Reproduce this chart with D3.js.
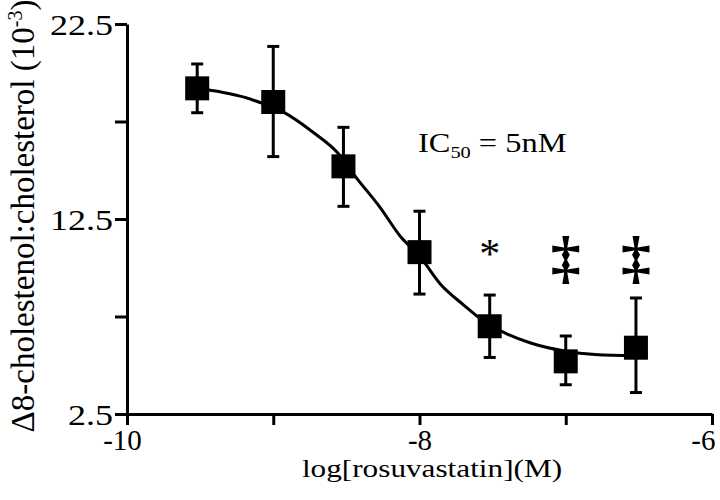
<!DOCTYPE html>
<html>
<head>
  <title>Rosuvastatin dose response</title>
  <style>
    body { margin: 0; background-color: white; }
    svg { display: block; }
    text { font-family: "Liberation Serif", "Times New Roman", serif; fill: black; }
  </style>
</head>
<body>
  <div id="chart-container">
    <svg width="720" height="500"></svg>
  </div>

  <script src="https://d3js.org/d3.v7.min.js"></script>
  <script>
    // measured points (mean with error bar ends)
    const concLog = [-9.52, -9, -8.52, -8, -7.52, -7, -6.52];
    const ratioMean = [19.2, 18.5, 15.2, 10.8, 7.0, 5.2, 5.9];
    const ratioUpper = [20.45, 21.35, 17.2, 12.9, 8.6, 6.5, 8.45];
    const ratioLower = [17.95, 15.7, 13.15, 8.65, 5.4, 4.0, 3.6];
    const sigMarks = ["", "", "", "", "*", "\u2021", "\u2021"];

    // fitted curve
    const fitLog = [-9.52, -9.35, -9.2, -9.1, -8.93, -8.73, -8.56, -8.43, -8.27, -8.13, -8.0, -7.85, -7.7, -7.55, -7.4, -7.24, -7.0, -6.8, -6.52];
    const fitRatio = [19.2, 19.0, 18.75, 18.5, 17.98, 16.96, 15.9, 14.6, 13.1, 11.6, 10.6, 9.1, 8.1, 7.2, 6.6, 6.14, 5.72, 5.55, 5.48];

    const xTicks = [-10, -9, -8, -7, -6];
    const xTickLabels = ["-10", "", "-8", "", "-6"];
    const yTicks = [2.5, 7.5, 12.5, 17.5, 22.5];
    const yTickLabels = ["2.5", "", "12.5", "", "22.5"];

    const svg = d3.select("svg");
    const x = d3.scaleLinear().domain([-10, -6]).range([127, 712]);
    const y = d3.scaleLinear().domain([2.5, 22.5]).range([414, 24]);
    const stretch = 1.2;

    svg.append("rect").attr("width", 720).attr("height", 500).attr("fill", "white");

    // axes
    const xAxis = svg.append("g")
      .attr("transform", "translate(0,414)")
      .call(d3.axisBottom(x).tickValues(xTicks).tickSize(11).tickSizeOuter(0)
        .tickFormat((d, i) => xTickLabels[i]));
    const yAxis = svg.append("g")
      .attr("transform", "translate(127,0)")
      .call(d3.axisLeft(y).tickValues(yTicks).tickSize(12).tickSizeOuter(0)
        .tickFormat((d, i) => yTickLabels[i]));

    [xAxis, yAxis].forEach(g => {
      g.select(".domain").attr("stroke", "black").attr("stroke-width", 3);
      g.selectAll(".tick line").attr("stroke", "black").attr("stroke-width", 3);
    });
    xAxis.selectAll(".tick text")
      .attr("font-size", 29).attr("font-family", "Liberation Serif")
      .attr("y", 36).attr("dy", 0)
      .attr("x", d => d === -10 ? -5 : (d === -6 ? 3 : 0))
      .attr("text-anchor", d => d === -6 ? "end" : "middle");
    yAxis.selectAll(".tick text")
      .attr("font-size", 30).attr("font-family", "Liberation Serif")
      .attr("x", 0).attr("dy", "0.35em")
      .attr("transform", `translate(-14,0) scale(${stretch},1)`);

    // axis titles
    svg.append("text")
      .attr("transform", "translate(432,477) scale(1.25,1)")
      .attr("text-anchor", "middle")
      .attr("font-size", 25)
      .text("log[rosuvastatin](M)");

    const yTitle = svg.append("text")
      .attr("transform", "translate(34,216) rotate(-90)")
      .attr("text-anchor", "middle")
      .attr("font-size", 33);
    yTitle.append("tspan").text("\u03948-cholestenol:cholesterol (10");
    yTitle.append("tspan").attr("font-size", 20).attr("dy", -12).text("-3");
    yTitle.append("tspan").attr("dy", 12).text(")");

    // fitted curve
    const line = d3.line()
      .x((d, i) => x(fitLog[i]))
      .y(d => y(d))
      .curve(d3.curveMonotoneX);
    svg.append("path")
      .datum(fitRatio)
      .attr("d", line)
      .attr("fill", "none")
      .attr("stroke", "black")
      .attr("stroke-width", 3);

    // error bars
    const pts = concLog.map((c, i) => ({ c, m: ratioMean[i], hi: ratioUpper[i], lo: ratioLower[i], mark: sigMarks[i] }));
    const eb = svg.append("g").attr("stroke", "black").attr("stroke-width", 3);
    eb.selectAll(".stem").data(pts).enter().append("line")
      .attr("x1", d => x(d.c)).attr("x2", d => x(d.c))
      .attr("y1", d => y(d.hi)).attr("y2", d => y(d.lo));
    eb.selectAll(".capTop").data(pts).enter().append("line")
      .attr("x1", d => x(d.c) - 6).attr("x2", d => x(d.c) + 6)
      .attr("y1", d => y(d.hi)).attr("y2", d => y(d.hi));
    eb.selectAll(".capBot").data(pts).enter().append("line")
      .attr("x1", d => x(d.c) - 6).attr("x2", d => x(d.c) + 6)
      .attr("y1", d => y(d.lo)).attr("y2", d => y(d.lo));

    // squares
    const sq = 24;
    svg.selectAll(".pt").data(pts).enter().append("rect")
      .attr("x", d => x(d.c) - sq / 2)
      .attr("y", d => y(d.m) - sq / 2)
      .attr("width", sq).attr("height", sq)
      .attr("fill", "black");

    // significance marks
    svg.selectAll(".sig").data(pts.filter(d => d.mark)).enter().append("text")
      .attr("x", d => x(d.c))
      .attr("y", d => d.mark === "*" ? 268 : 277)
      .attr("text-anchor", "middle")
      .attr("font-size", d => d.mark === "*" ? 42 : 60)
      .attr("font-weight", d => d.mark === "*" ? "normal" : "bold")
      .text(d => d.mark);

    // IC50 annotation
    const ic = svg.append("text")
      .attr("transform", `translate(418,152) scale(${stretch},1)`)
      .attr("font-size", 27);
    ic.append("tspan").text("IC");
    ic.append("tspan").attr("font-size", 17).attr("dy", 6).text("50");
    ic.append("tspan").attr("dy", -6).text(" = 5nM");
  </script>
</body>
</html>
